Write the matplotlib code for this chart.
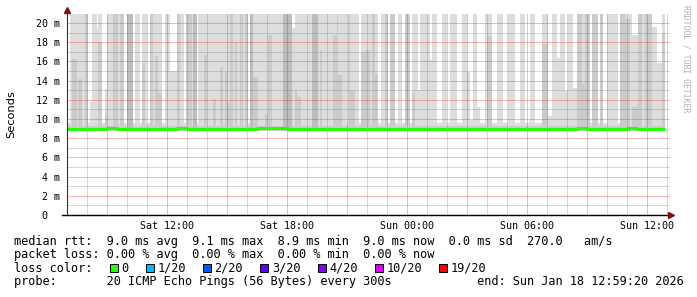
import matplotlib
matplotlib.use("Agg")
import matplotlib.pyplot as plt
from matplotlib.patches import Rectangle
import numpy as np

seg_start = [0.00, 0.14, 0.27, 0.49, 0.55, 0.75, 0.90, 1.04, 1.15, 1.24,
             1.50, 1.57, 1.77, 1.90, 1.99, 2.29, 2.54, 2.65, 2.87, 2.99,
             3.32, 3.40, 3.65, 3.77, 3.90, 3.99, 4.15, 4.32, 4.40, 4.54,
             4.77, 4.90, 5.15, 5.49, 5.65, 5.85, 5.95, 6.27, 6.32, 6.52,
             6.57, 6.87, 7.02, 7.30, 7.44, 7.65, 7.79, 7.90, 8.02, 8.15,
             8.29, 8.40, 8.52, 8.65, 8.82, 8.90, 9.07, 9.15, 9.32, 9.57,
             9.90, 10.04, 10.24, 10.82, 11.24, 11.40, 11.52, 11.70, 12.27, 12.57,
             12.65, 12.77, 13.32, 13.52, 13.57, 13.77, 13.99, 14.04, 14.15, 14.40,
             14.60, 14.70, 14.90, 15.15, 15.24, 15.40, 15.54, 15.70, 15.90, 16.07,
             16.15, 16.40, 16.54, 16.77, 16.90, 17.15, 17.27, 17.40, 17.54, 17.65,
             18.14, 18.27, 18.52, 18.74, 18.99, 19.15, 19.52, 19.74, 19.99, 20.15,
             20.29, 20.49, 20.65, 20.90, 20.99, 21.24, 21.49, 21.82, 22.04, 22.40,
             22.65, 22.90, 23.15, 23.40, 23.74, 24.04, 24.24, 24.52, 24.65, 24.90,
             25.07, 25.32, 25.52, 25.77, 25.90, 26.15, 26.24, 26.54, 26.65, 26.82,
             26.99, 27.54, 27.65, 27.90, 28.15, 28.27, 28.54, 28.77, 28.90, 29.24,
             29.49, 29.77]
data_end = 29.90

# top of the outer (lightest) smoke band, ms
seg_light = [9.6, 21, 21, 21, 21, 21, 21, 9.6, 11.8, 21,
             19.4, 21, 9.6, 13.1, 21, 21, 21, 21, 9.6, 21,
             9.6, 21, 9.6, 21, 21, 9.6, 21, 21, 21, 21,
             9.6, 21, 15, 21, 21, 9.6, 21, 21, 21, 9.6,
             21, 21, 21, 21, 21, 21, 21, 21, 21, 21,
             21, 21, 21, 21, 21, 21, 9.6, 21, 21, 21,
             21, 21, 21, 21, 19.5, 21, 21, 21, 21, 21,
             21, 21, 21, 21, 21, 21, 9.6, 21, 21, 21,
             9.6, 21, 21, 21, 21, 21, 9.6, 21, 21, 9.6,
             21, 9.6, 21, 9.6, 21, 9.6, 21, 21, 13, 21,
             16.1, 21, 9.6, 21, 9.6, 21, 9.6, 21, 14.9, 9.9,
             21, 11.3, 9.6, 21, 21, 9.6, 21, 9.6, 21, 9.6,
             21, 9.6, 21, 9.6, 21, 10.3, 21, 16.4, 21, 12.9,
             21, 13.2, 21, 21, 21, 9.6, 21, 9.6, 21, 9.6,
             21, 9.6, 21, 21, 21, 18.8, 21, 21, 21, 19.6,
             15.8, 21]

# top of the inner (mid grey) smoke band, ms
seg_mid = [9.3, 9.3, 16.3, 9.3, 14.2, 9.3, 21, 9.3, 9.3, 9.3,
           9.3, 18, 9.3, 10.4, 9.3, 21, 9.3, 21, 9.3, 21,
           9.3, 9.3, 9.3, 15.8, 9.3, 9.3, 21, 9.3, 16.6, 12.7,
           9.3, 9.3, 9.3, 21, 9.3, 9.3, 21, 9.3, 21, 9.3,
           9.3, 16.7, 9.3, 12.1, 9.3, 15.4, 9.3, 14.9, 11.7, 21,
           9.3, 18, 9.3, 21, 9.3, 21, 9.3, 21, 14.4, 9.3,
           10.5, 18.8, 9.3, 21, 9.3, 13, 12.3, 9.3, 21, 9.3,
           17.2, 9.3, 18.8, 21, 14.6, 9.3, 9.3, 21, 12.9, 9.3,
           9.3, 17, 17.2, 9.3, 21, 14.7, 9.3, 9.3, 21, 9.3,
           21, 9.3, 9.3, 9.3, 21, 9.3, 12.7, 9.3, 9.3, 9.3,
           9.3, 9.3, 9.3, 9.3, 9.3, 9.3, 9.3, 9.3, 9.3, 9.3,
           9.3, 9.3, 9.3, 9.3, 18.6, 9.3, 9.3, 9.3, 9.3, 9.3,
           9.3, 9.3, 9.3, 9.3, 17.8, 9.3, 9.3, 9.3, 9.3, 9.3,
           9.3, 9.3, 21, 13.6, 21, 9.3, 21, 9.3, 21, 9.3,
           9.3, 9.3, 21, 20.4, 9.3, 11.3, 21, 9.3, 21, 9.3,
           9.3, 19]

# darker full-height columns
dark_start = [2.99, 6.32, 9.15, 10.82, 12.27]
dark_end = [3.32, 6.52, 9.32, 11.24, 12.57]

smoke_floor = 8.75

# median rtt, every 30 min
med_time = np.arange(0, 30, 0.5)
median = [9.0, 8.95, 9.0, 9.0, 9.05, 9.0, 9.0, 9.0, 8.95, 9.0,
          9.0, 9.05, 9.0, 9.0, 9.0, 8.95, 9.0, 9.0, 9.0, 9.05,
          9.1, 9.05, 9.0, 9.0, 9.0, 8.95, 9.0, 9.0, 9.0, 9.0,
          8.95, 8.95, 9.0, 9.0, 8.95, 9.0, 9.0, 9.0, 8.95, 9.0,
          9.0, 9.0, 9.0, 8.95, 9.0, 9.0, 9.0, 9.0, 9.0, 8.95,
          9.0, 9.05, 9.0, 9.0, 9.0, 9.0, 9.05, 9.0, 9.0, 9.0]

xtick_pos = [5, 11, 17, 23, 29]
xtick_labels = ["Sat 12:00", "Sat 18:00", "Sun 00:00", "Sun 06:00", "Sun 12:00"]
ytick_pos = list(range(0, 21, 2))
ytick_labels = ["0  "] + [f"{v} m" for v in ytick_pos[1:]]

loss_labels = ["0", "1/20", "2/20", "3/20", "4/20", "10/20", "19/20"]
loss_colors = ["#26ff00", "#00b8ff", "#0059ff", "#5e00ff", "#7e00ff", "#dd00ff", "#ff0000"]
loss_chars = [15, 20, 28, 36, 44, 52, 61]

W, H = 697, 297
MONO = "DejaVu Sans Mono"
XMAX, YMAX = 30.15, 20.94

fig = plt.figure(figsize=(W / 100, H / 100), dpi=100)
fig.patch.set_facecolor("white")
ax = fig.add_axes([67 / W, 1 - 215 / H, 603 / W, 201 / H])
ax.set_xlim(0, XMAX)
ax.set_ylim(0, YMAX)
for s in ax.spines.values():
    s.set_visible(False)

ends = np.array(seg_start[1:] + [data_end])
starts = np.array(seg_start)
widths = ends - starts
light = np.array(seg_light)
mid = np.array(seg_mid)

ax.bar(starts, light - smoke_floor, width=widths, bottom=smoke_floor, align="edge",
       color="#dddddd", linewidth=0, antialiased=False, zorder=1)
ax.bar(starts, np.maximum(mid - smoke_floor, 0), width=widths, bottom=smoke_floor,
       align="edge", color="#cbcbcb", linewidth=0, antialiased=False, zorder=1.1)
ax.bar(dark_start, 21 - smoke_floor, width=np.array(dark_end) - np.array(dark_start),
       bottom=smoke_floor, align="edge", color="#bdbdbd", linewidth=0,
       antialiased=False, zorder=1.2)

# grid over the smoke; thin translucent lines stand in for rrdtool's dots
MAJ = (1.0, 0.1, 0.1, 0.32)
MNR = (0.45, 0.45, 0.45, 0.28)
for h in range(1, 31):
    ax.axvline(h, color=MAJ if h % 3 == 2 else MNR, lw=0.72,
               antialiased=False, zorder=2)
for v in range(1, 21):
    ax.axhline(v, color=MAJ if v % 2 == 0 else MNR, lw=0.72,
               antialiased=False, zorder=2)

mt = list(med_time) + [data_end]
mv = median + [median[-1]]
ax.plot(mt, mv, drawstyle="steps-post", color="#26ff00", lw=2.2, zorder=3,
        solid_capstyle="butt")

# axes with arrows
ax.plot([-0.25, 30.2], [0, 0], color="black", lw=1, clip_on=False, zorder=4)
ax.plot([0, 0], [0, 21.2], color="#333333", lw=0.8, clip_on=False, zorder=4)
ax.plot(0, 21.35, marker="^", color="#7f1010", ms=4, clip_on=False, zorder=5)
ax.plot(30.22, 0, marker=">", color="#7f1010", ms=4, clip_on=False, zorder=5)

ax.set_xticks(xtick_pos)
ax.set_xticklabels(xtick_labels, fontfamily=MONO, fontsize=7.2)
ax.set_yticks(ytick_pos)
ax.set_yticklabels(ytick_labels, fontfamily=MONO, fontsize=7.2)
ax.tick_params(axis="x", length=0, pad=4, colors="black")
ax.tick_params(axis="y", length=0, pad=5, colors="black")

fig.text(11 / W, 1 - 114 / H, "Seconds", rotation=90, ha="center", va="center",
         fontsize=8.2, fontfamily="DejaVu Sans")
fig.text(686 / W, 1 - 59 / H, "RRDTOOL / TOBI OETIKER", rotation=270, ha="center",
         va="center", fontsize=5.9, fontfamily=MONO, color="#b0b0b0")

# legend block
x0 = 14
cw = 7.16
fs = 8.56
line1 = "median rtt:  9.0 ms avg  9.1 ms max  8.9 ms min  9.0 ms now  0.0 ms sd  270.0   am/s"
line2 = "packet loss: 0.00 % avg  0.00 % max  0.00 % min  0.00 % now"
line3 = "loss color:"
line4 = "probe:       20 ICMP Echo Pings (56 Bytes) every 300s"
line4 = line4 + " " * (65 - len(line4)) + "end: Sun Jan 18 12:59:20 2026"
for y, txt in [(241, line1), (254.5, line2), (268, line3), (282, line4)]:
    fig.text(x0 / W, 1 - y / H, txt, ha="left", va="center", fontsize=fs, fontfamily=MONO)

for lab, col, n in zip(loss_labels, loss_colors, loss_chars):
    fig.text((x0 + n * cw) / W, 1 - 268 / H, lab, ha="left", va="center",
             fontsize=fs, fontfamily=MONO)
    bx = x0 + (n - 1.6) * cw
    fig.patches.append(Rectangle((bx / W, 1 - 272 / H), 8 / W, 8 / H,
                                 transform=fig.transFigure, facecolor=col,
                                 edgecolor="black", linewidth=0.7))

fig.savefig("out.png", dpi=100, facecolor="white")
